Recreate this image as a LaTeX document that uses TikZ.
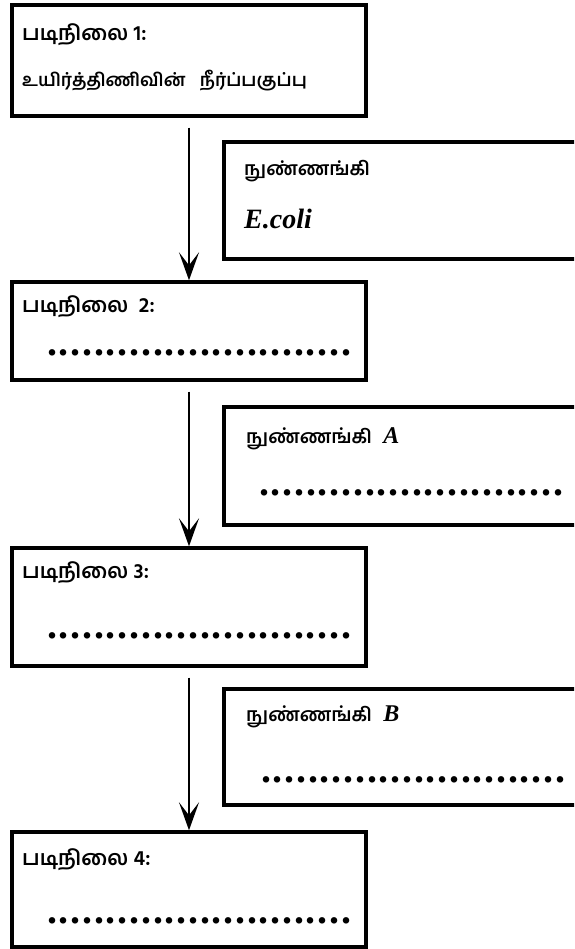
\documentclass[tikz,border=0pt]{standalone}
\usepackage{fontspec}
\setmainfont{Liberation Serif}
\newfontfamily\tamil[Script=Tamil]{Hind Madurai}
\usetikzlibrary{positioning,arrows.meta}
\newcommand\dotrow[1]{\hbox to #1{\xleaders\hbox to 11.6pt{\hss\bfseries.\hss}\hfill}}

\begin{document}
\begin{tikzpicture}[x=1pt,y=-1pt,
  stepbox/.style={draw,line width=3.4pt,inner sep=0pt,minimum width=354pt},
  sidebox/.style={draw,line width=3.4pt,inner sep=0pt,minimum width=380pt},
  lbl/.style={anchor=base west,inner sep=0pt,font=\tamil\bfseries\fontsize{21}{21}\selectfont},
  small/.style={lbl,font=\tamil\bfseries\fontsize{19}{19}\selectfont},
  latin/.style={anchor=base west,inner sep=0pt,font=\fontsize{28}{28}\selectfont\bfseries\itshape},
  dots/.style={anchor=base west,inner sep=0pt,font=\fontsize{40}{40}\selectfont},
  flow/.style={line width=2.4pt,-{Stealth[length=28pt,width=20pt,inset=13pt]},shorten <=10pt}]
 \clip (0,0) rectangle (574,949);
 % steps
 \node[stepbox,minimum height=111pt](step1) at (189,60.5){};
 \node[stepbox,minimum height=98pt](step2) at (189,331){};
 \node[stepbox,minimum height=118pt](step3) at (189,607){};
 \node[stepbox,minimum height=115pt](step4) at (189,889.5){};
 % microbes
 \node[sidebox,minimum height=117pt](mic0) at (414,200.5){};
 \node[sidebox,minimum height=118pt](micA) at (414,466){};
 \node[sidebox,minimum height=116pt](micB) at (414,747){};
 % texts
 \node[lbl](t1) at (22,41){படிநிலை 1:};
 \node[small,font=\tamil\bfseries\fontsize{18}{18}\selectfont](t1b) at (22,87){உயிர்த்திணிவின்\hspace{0.8em}நீர்ப்பகுப்பு};
 \node[lbl](t2) at (22,312){படிநிலை\hspace{0.5em}2:};
 \node[dots](d2) at (46,355){\dotrow{306pt}};
 \node[lbl](t3) at (22,578){படிநிலை 3:};
 \node[dots](d3) at (46,638){\dotrow{306pt}};
 \node[lbl](t4) at (22,865){படிநிலை 4:};
 \node[dots](d4) at (46,923){\dotrow{306pt}};
 \node[small](m0) at (244,176){நுண்ணங்கி};
 \node[latin](m0b) at (244,229){E.coli};
 \node[small](mA) at (246,443){நுண்ணங்கி\hspace{0.6em}{\rmfamily\bfseries\itshape\fontsize{24}{24}\selectfont A}};
 \node[dots](dA) at (258,495){\dotrow{306pt}};
 \node[small](mB) at (246,721){நுண்ணங்கி\hspace{0.6em}{\rmfamily\bfseries\itshape\fontsize{24}{24}\selectfont B}};
 \node[dots](dB) at (260,782){\dotrow{306pt}};
 % arrows
 \draw[flow](step1)--(step2);
 \draw[flow](step2)--(step3);
 \draw[flow](step3)--(step4);
\end{tikzpicture}
\end{document}
